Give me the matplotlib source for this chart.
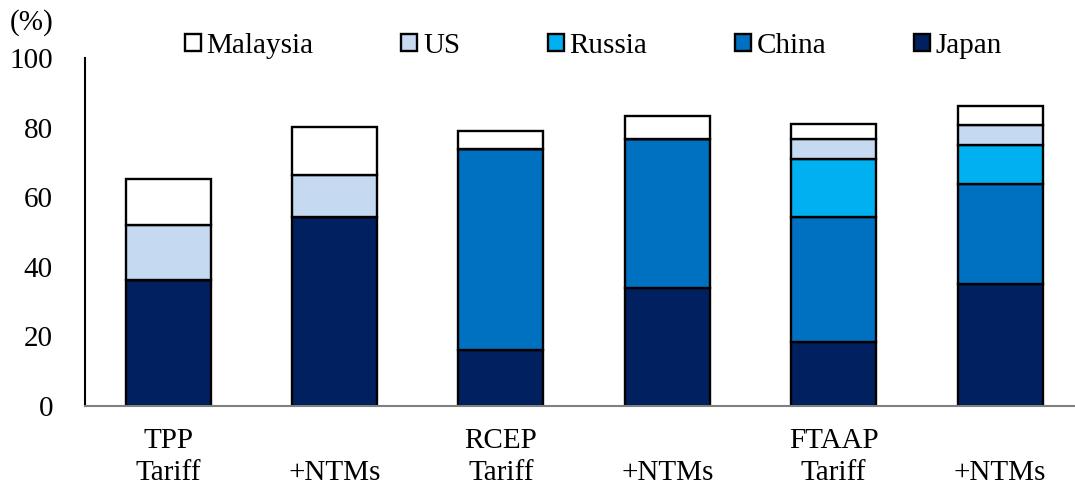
import numpy as np
import matplotlib
matplotlib.use("Agg")
import matplotlib.pyplot as plt

plt.rcParams['font.family'] = ['Liberation Serif', 'DejaVu Serif']

# stacked shares (%) per scenario
scenarios = ["TPP\nTariff", "\n+NTMs", "RCEP\nTariff", "\n+NTMs", "FTAAP\nTariff", "\n+NTMs"]
japan = [36.2, 54.4, 16.1, 33.8, 18.3, 35.0]
china = [0.0, 0.0, 57.8, 42.9, 36.1, 28.7]
russia = [0.0, 0.0, 0.0, 0.0, 16.5, 11.3]
us = [15.8, 12.0, 0.0, 0.0, 5.8, 5.8]
malaysia = [13.3, 13.9, 5.2, 6.5, 4.2, 5.3]

series = [
    ("Japan", japan, "#002060"),
    ("China", china, "#0070C0"),
    ("Russia", russia, "#00B0F0"),
    ("US", us, "#C5D9F1"),
    ("Malaysia", malaysia, "#FFFFFF"),
]

fig = plt.figure(figsize=(10.75, 4.91), dpi=100)
ax = fig.add_axes([0.079, 0.173, 0.921, 0.709])

x = np.arange(len(scenarios))
bottom = np.zeros(len(scenarios))
handles = {}
for name, vals, color in series:
    vals = np.array(vals)
    bars = ax.bar(x, vals, width=0.51, bottom=bottom, color=color,
                  edgecolor="black", linewidth=1.7, label=name)
    handles[name] = bars
    bottom += vals

ax.set_xlim(-0.5, 5.45)
ax.set_ylim(0, 100)
ax.set_yticks([0, 20, 40, 60, 80, 100])
ax.set_xticks(x)
ax.set_xticklabels(scenarios, linespacing=1.3)
ax.tick_params(axis="y", length=0, labelsize=21, pad=23)
ax.tick_params(axis="x", length=0, labelsize=21, pad=16)
for s in ["top", "right"]:
    ax.spines[s].set_visible(False)
ax.spines["left"].set_linewidth(1.5)
ax.spines["bottom"].set_color("#808080")
ax.spines["bottom"].set_linewidth(1.5)

fig.text(0.009, 0.955, "(%)", fontsize=21, ha="left", va="center")

order = ["Malaysia", "US", "Russia", "China", "Japan"]
fig.legend([handles[n] for n in order], order, loc="center left",
           bbox_to_anchor=(0.161, 0.907), ncol=5, frameon=False, fontsize=21,
           handlelength=0.55, handleheight=0.55, handletextpad=0.2,
           columnspacing=3.0, borderaxespad=0)

fig.savefig("out.png", dpi=100)
